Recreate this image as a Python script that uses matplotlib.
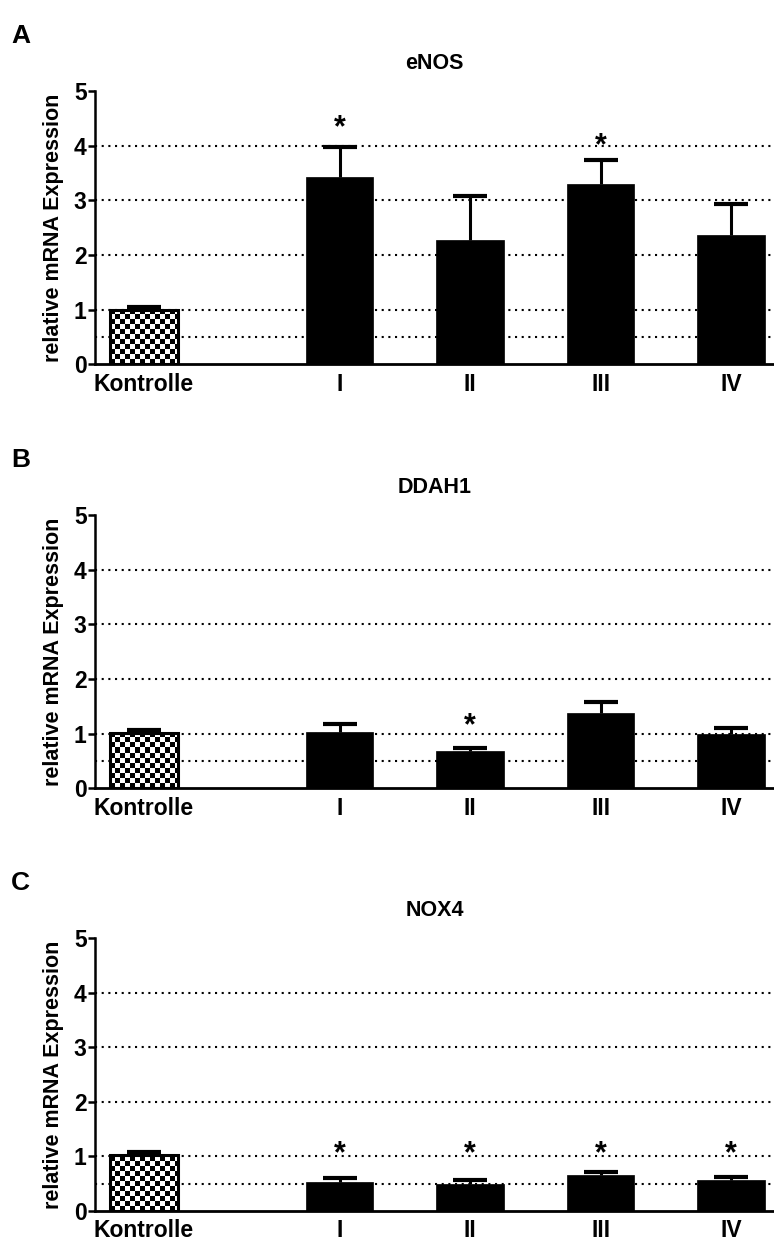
import numpy as np
import matplotlib
matplotlib.use("Agg")
import matplotlib.pyplot as plt
from matplotlib.transforms import offset_copy

plt.rcParams['font.family'] = ['Liberation Sans', 'DejaVu Sans']
plt.rcParams['font.weight'] = 'bold'

# ---------------- data ----------------
categories = ['Kontrolle', 'I', 'II', 'III', 'IV']
titles = ['eNOS', 'DDAH1', 'NOX4']
panel_labels = ['A', 'B', 'C']

enos_mean = [1.00, 3.43, 2.27, 3.30, 2.36]
enos_sem = [0.05, 0.54, 0.80, 0.44, 0.57]
enos_star = [None, 4.45, None, 4.13, None]

ddah1_mean = [1.01, 1.03, 0.69, 1.37, 1.00]
ddah1_sem = [0.05, 0.14, 0.05, 0.21, 0.11]
ddah1_star = [None, None, 1.27, None, None]

nox4_mean = [1.02, 0.54, 0.49, 0.66, 0.57]
nox4_sem = [0.06, 0.06, 0.08, 0.05, 0.05]
nox4_star = [None, 1.18, 1.18, 1.18, 1.18]

y_ticks = [0, 1, 2, 3, 4, 5]
grid_levels = [0.5, 1, 2, 3, 4]
ylabel = 'relative mRNA Expression'

panels = [
    (enos_mean, enos_sem, enos_star),
    (ddah1_mean, ddah1_sem, ddah1_star),
    (nox4_mean, nox4_sem, nox4_star),
]

# ---------------- layout ----------------
W, H = 774, 1242
fig = plt.figure(figsize=(W / 100, H / 100), dpi=100)
x_pos = [0, 1.5, 2.5, 3.5, 4.5]
bar_w = 0.52
xlim = (-0.374, 4.829)
axes_px = [(91, 364.3), (515, 788.3), (938, 1211)]  # top, bottom in pixels
left_px = 95
FS_TICK = 16.5
FS_TITLE = 15.5
FS_YLAB = 15.5

for k, ((means, sems, stars), title, plabel, (top, bot)) in enumerate(
        zip(panels, titles, panel_labels, axes_px)):
    ax = fig.add_axes([left_px / W, 1 - bot / H, (W - left_px) / W, (bot - top) / H])
    ax.set_xlim(*xlim)
    ax.set_ylim(0, 5)

    for g in grid_levels:
        ax.axhline(g, color='black', lw=1.5, ls=(0, (1, 2.2)), zorder=0)

    # control bar (checkered fill + black outline)
    ctrl = ax.bar(x_pos[0], means[0], width=bar_w, facecolor='none',
                  edgecolor='black', linewidth=2.2, zorder=3)[0]
    x0, x1 = x_pos[0] - bar_w / 2, x_pos[0] + bar_w / 2
    p0 = ax.transData.transform((x0, 0))
    p1 = ax.transData.transform((x1, means[0]))
    cell = 5.0
    nx = int(np.ceil((p1[0] - p0[0]) / cell))
    ny = int(np.ceil((p1[1] - p0[1]) / cell))
    ii, jj = np.indices((ny, nx))
    checker = ((ii + jj) % 2).astype(float)
    ex1 = x0 + nx * cell / ((p1[0] - p0[0]) / (x1 - x0))
    ey1 = ny * cell / ((p1[1] - p0[1]) / means[0])
    im = ax.imshow(checker, cmap='gray', extent=(x0, ex1, 0, ey1), origin='lower',
                   interpolation='nearest', aspect='auto', zorder=2.8)
    im.set_clip_path(ctrl)

    # treatment bars
    ax.bar(x_pos[1:], means[1:], width=bar_w, color='black', edgecolor='black',
           linewidth=0.5, zorder=3)

    eb = ax.errorbar(x_pos, means, yerr=[np.zeros(len(sems)), sems], fmt='none',
                     ecolor='black', elinewidth=2.2, capsize=12, capthick=3,
                     zorder=2.5)
    # hide the lower caps (they sit at the bar tops)
    for cl in eb[1]:
        yd = np.asarray(cl.get_ydata(), dtype=float)
        if np.allclose(yd, means):
            cl.set_visible(False)

    star_tr = offset_copy(ax.transData, fig=fig, x=0, y=-11, units='points')
    for xp, s in zip(x_pos, stars):
        if s is not None:
            ax.text(xp, s, '*', transform=star_tr, ha='center', va='baseline',
                    fontsize=22, fontweight='bold')

    ax.set_xlim(*xlim)
    ax.set_ylim(0, 5)

    for sp in ['top', 'right']:
        ax.spines[sp].set_visible(False)
    ax.spines['left'].set_linewidth(1.8)
    ax.spines['bottom'].set_linewidth(2.0)
    ax.spines['bottom'].set_zorder(4)

    ax.set_yticks(y_ticks)
    ax.set_yticklabels([str(t) for t in y_ticks], fontsize=FS_TICK, fontweight='bold')
    ax.tick_params(axis='y', direction='out', length=5, width=1.8, pad=1)
    ax.set_xticks(x_pos)
    ax.set_xticklabels(categories, fontsize=FS_TICK, fontweight='bold')
    ax.tick_params(axis='x', length=0, pad=6)

    ax.set_ylabel(ylabel, fontsize=FS_YLAB, fontweight='bold')
    ax.yaxis.set_label_coords(-0.045, 0.5)
    ax.set_title(title, fontsize=FS_TITLE, fontweight='bold', pad=16)

    fig.text(11 / W, 1 - (top - 48) / H, plabel, fontsize=19, fontweight='bold',
             ha='left', va='baseline')

fig.savefig('out.png', dpi=100)
